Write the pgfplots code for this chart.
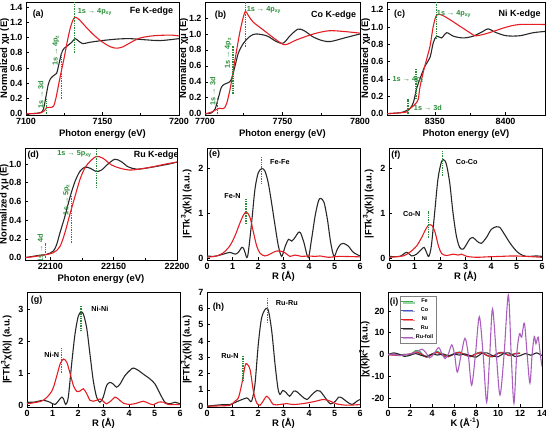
\documentclass[border=0pt]{standalone}
\usepackage{fontspec}
\setmainfont{Liberation Sans}
\usepackage{pgfplots}
\pgfplotsset{compat=1.18}
\usetikzlibrary{shadows}
\definecolor{grn}{RGB}{40,140,55}
\definecolor{myred}{RGB}{228,30,35}
\definecolor{myblk}{RGB}{40,40,40}
\definecolor{fegreen}{RGB}{60,175,80}
\definecolor{coblue}{RGB}{70,90,190}
\definecolor{rupurple}{RGB}{170,95,190}
\newcommand\ann{\bfseries\fontsize{7.3}{8}\selectfont}
\newcommand\pl{\bfseries\fontsize{9}{10}\selectfont}
\tikzset{blk/.style={color=myblk, line width=1.1pt, smooth},
 rd/.style={color=myred, line width=1.1pt, smooth},
 gd/.style={color=grn, line width=1.4pt, densely dotted},
 an/.style={font=\ann},
 pn/.style={font=\pl}}
\pgfplotsset{
 base/.style={scale only axis, anchor=south west, axis line style={line width=0.9pt},
  tick style={line width=0.7pt, black}, major tick length=3bp, minor tick length=1.8bp,
  tick pos=left, tick align=inside, scaled x ticks=false, scaled y ticks=false,
  tick label style={font=\bfseries\fontsize{9}{10}\selectfont},
  label style={font=\bfseries\fontsize{9.5}{10}\selectfont},
  /pgf/number format/assume math mode=true, /pgf/number format/1000 sep={},
  xlabel style={yshift=2bp}},
 xanes/.style={base, xlabel={Photon energy (eV)}, ylabel={Normalized χμ (E)},
  yticklabel style={/pgf/number format/fixed, /pgf/number format/fixed zerofill, /pgf/number format/precision=1},
  minor x tick num=1},
 ft/.style={base, xlabel={R (Å)}, ylabel={|FTk\textsuperscript{3}χ(k)| (a.u.)}, xmin=0, xmax=6, xtick={0,1,2,3,4,5,6},
  xlabel style={yshift=4bp}},
}
\begin{document}
\begin{tikzpicture}
\path[use as bounding box] (0,0) rectangle (546bp,429bp);
% (a)
\begin{axis}[xanes, at={(26bp,314bp)}, width=153bp, height=113bp, xmin=7100, xmax=7200, ymin=-0.015, ymax=1.465,
 xtick={7100,7150,7200}, ytick={0,0.2,0.4,0.6,0.8,1.0,1.2,1.4}, ylabel style={yshift=-6bp}]
\addplot[blk] coordinates {(7100,0) (7106,0.005) (7110,0.02) (7111.5,0.07) (7113,0.22) (7114.5,0.38) (7116,0.46) (7118,0.5) (7120,0.53) (7121.5,0.65) (7123.3,0.8) (7125,0.86) (7127,0.89) (7130,0.94) (7132,0.985) (7134,0.96) (7137,0.92) (7141,0.935) (7146,0.95) (7152,0.965) (7160,0.98) (7168,0.985) (7178,0.97) (7188,0.96) (7200,0.985)};
\addplot[rd] coordinates {(7100,0) (7106,0.005) (7110,0.015) (7112,0.04) (7113.5,0.08) (7116,0.085) (7118,0.1) (7119.5,0.2) (7121,0.35) (7123,0.55) (7125,0.74) (7127,0.95) (7129,1.13) (7131,1.24) (7132.5,1.265) (7135,1.23) (7140,1.12) (7145,1.02) (7150,0.94) (7155,0.88) (7159,0.86) (7163,0.875) (7168,0.93) (7174,0.99) (7182,1.02) (7190,1.03) (7196,1.03) (7200,1.02)};
\addplot[gd] coordinates {(7113.5,0) (7113.5,0.2)};
\addplot[gd] coordinates {(7123.3,0.2) (7123.3,0.82)};
\addplot[gd] coordinates {(7131.8,0.8) (7131.8,1.46)};
\node[an, text=grn, rotate=90] at (axis cs:7109.6,0.25) {1s → 3d};
\node[an, text=grn, rotate=90] at (axis cs:7119.6,0.83) {1s → 4p\textsubscript{z}};
\node[an, text=grn] at (axis cs:7145,1.33) {1s → 4p\textsubscript{xy}};
\node[pn] at (axis cs:7108,1.3) {(a)};
\node[pn] at (axis cs:7182,1.34) {Fe K-edge};
\end{axis}
% (b)
\begin{axis}[xanes, at={(205bp,314bp)}, width=155bp, height=113bp, xmin=7700, xmax=7800, ymin=-0.015, ymax=1.4,
 xtick={7700,7750,7800}, ytick={0,0.2,0.4,0.6,0.8,1.0,1.2}, ylabel style={yshift=-6bp}]
\addplot[blk] coordinates {(7700,0) (7704,0.01) (7706.5,0.06) (7708.5,0.19) (7710.5,0.33) (7712.5,0.37) (7715,0.39) (7717,0.43) (7719.4,0.6) (7721.5,0.76) (7724.7,0.88) (7729,0.97) (7733,1.0) (7740,0.975) (7746,0.905) (7750.5,0.885) (7755,0.98) (7760,1.06) (7764,1.04) (7770,0.96) (7776,0.915) (7781,0.905) (7790,0.95) (7800,1.0)};
\addplot[rd] coordinates {(7700,0) (7704,0.02) (7707,0.05) (7709.5,0.07) (7712,0.065) (7714,0.13) (7716.5,0.34) (7718.7,0.6) (7720.8,0.84) (7723,1.07) (7725.8,1.275) (7728,1.23) (7731,1.15) (7737.6,1.05) (7746,0.925) (7751.6,0.865) (7759,0.925) (7770,1.0) (7780,1.04) (7790,1.03) (7800,1.01)};
\addplot[gd] coordinates {(7708,0) (7708,0.2)};
\addplot[gd] coordinates {(7718,0.25) (7718,0.85)};
\addplot[gd] coordinates {(7726,0.84) (7726,1.4)};
\node[an, text=grn, rotate=90] at (axis cs:7705,0.28) {1s → 3d};
\node[an, text=grn, rotate=90] at (axis cs:7715,0.76) {1s → 4p\textsubscript{z}};
\node[an, text=grn] at (axis cs:7738,1.3) {1s → 4p\textsubscript{xy}};
\node[pn] at (axis cs:7710,1.23) {(b)};
\node[pn] at (axis cs:7783,1.23) {Co K-edge};
\end{axis}
% (c)
\begin{axis}[xanes, at={(387bp,314bp)}, width=158bp, height=113bp, xmin=8316, xmax=8428, ymin=-0.015, ymax=1.29,
 xtick={8350,8400}, ytick={0,0.2,0.4,0.6,0.8,1.0,1.2}, ylabel style={yshift=-6bp}]
\addplot[blk] coordinates {(8316,0) (8325,0.01) (8327.6,0.02) (8332.3,0.06) (8334.7,0.13) (8337,0.29) (8339.3,0.4) (8342.9,0.55) (8346.5,0.65) (8348.8,0.82) (8351.2,0.895) (8354.7,0.875) (8358.3,0.935) (8363,0.895) (8370,0.875) (8377,0.895) (8384,0.95) (8387.7,0.98) (8393.6,0.935) (8400.7,0.9) (8410,0.9) (8419.5,0.935) (8428,0.95)};
\addplot[rd] coordinates {(8316,0) (8325,0.01) (8329.9,0.02) (8332.3,0.06) (8334.7,0.09) (8336.5,0.12) (8338.2,0.17) (8339.3,0.3) (8341.7,0.48) (8344.1,0.63) (8346.5,0.78) (8348.8,1.01) (8351.2,1.14) (8354.7,1.14) (8360.7,1.085) (8367.7,1.01) (8374.8,0.935) (8378.4,0.9) (8384.2,0.915) (8391.3,0.95) (8400.7,1.0) (8410,1.03) (8428,1.03)};
\addplot[gd] coordinates {(8331,0) (8331,0.17)};
\addplot[gd] coordinates {(8336.5,0.17) (8336.5,0.52)};
\addplot[gd] coordinates {(8351,0.86) (8351,1.29)};
\node[an, text=grn] at (axis cs:8345,0.065) {1s → 3d};
\node[an, text=grn] at (axis cs:8331,0.39) {1s → 4p\textsubscript{z}};
\node[an, text=grn] at (axis cs:8363.5,1.155) {1s → 4p\textsubscript{xy}};
\node[pn] at (axis cs:8325,1.15) {(c)};
\node[pn] at (axis cs:8410,1.15) {Ni K-edge};
\end{axis}
% (d)
\begin{axis}[xanes, at={(25bp,169bp)}, width=152bp, height=112bp, xmin=22080, xmax=22200, ymin=-0.025, ymax=1.17,
 xtick={22100,22150,22200}, ytick={0,0.2,0.4,0.6,0.8,1.0}, ylabel style={yshift=-6.5bp}]
\addplot[blk] coordinates {(22080,0) (22089,0.02) (22097,0.035) (22102.3,0.07) (22105,0.14) (22107.6,0.265) (22111.5,0.44) (22115.4,0.64) (22119.4,0.81) (22123.3,0.92) (22127.2,0.965) (22131.2,0.955) (22136.4,0.92) (22140.4,0.935) (22145.6,1.0) (22151,1.05) (22156,1.025) (22161.3,0.97) (22167.8,0.945) (22175.7,0.955) (22186.3,0.98) (22194,1.0) (22200,1.02)};
\addplot[rd] coordinates {(22080,0) (22089,0.015) (22102,0.05) (22107.6,0.12) (22111.5,0.265) (22115.4,0.46) (22119.4,0.65) (22123.3,0.83) (22127.2,0.955) (22131.2,1.025) (22136.4,1.08) (22141.6,1.06) (22148.2,0.99) (22154.8,0.955) (22162.6,0.935) (22170.5,0.945) (22181,0.97) (22191.5,1.0) (22200,1.02)};
\addplot[gd] coordinates {(22096.3,0) (22096.3,0.16)};
\addplot[gd] coordinates {(22116.7,0.16) (22116.7,0.67)};
\addplot[gd] coordinates {(22136.4,0.74) (22136.4,1.17)};
\node[an, text=grn, rotate=90] at (axis cs:22092,0.1) {1s → 4d};
\node[an, text=grn, rotate=90] at (axis cs:22112.8,0.62) {1s → 5p\textsubscript{z}};
\node[an, text=grn] at (axis cs:22119,1.11) {1s → 5p\textsubscript{xy}};
\node[pn] at (axis cs:22086.5,1.095) {(d)};
\node[pn] at (axis cs:22183.6,1.095) {Ru K-edge};
\end{axis}
% (e)
\begin{axis}[ft, at={(207bp,169bp)}, width=153bp, height=112bp, ymin=-0.04, ymax=2.45, ytick={0,1,2}]
\addplot[blk] coordinates {(0,0.05) (0.25,0.04) (0.45,0.06) (0.64,0.09) (0.9,0.13) (1.1,0.09) (1.23,0.13) (1.36,0.24) (1.43,0.22) (1.49,0.13) (1.56,0.015) (1.62,0.13) (1.75,0.79) (1.88,1.53) (2.01,1.9) (2.15,1.99) (2.27,1.94) (2.4,1.68) (2.53,1.24) (2.67,0.72) (2.8,0.27) (2.93,0.04) (3.07,0.27) (3.2,0.42) (3.32,0.38) (3.45,0.46) (3.58,0.57) (3.67,0.56) (3.8,0.35) (3.97,0.015) (4.1,0.42) (4.24,0.94) (4.37,1.27) (4.46,1.33) (4.59,1.24) (4.72,0.87) (4.85,0.35) (4.98,0.04) (5.11,0.2) (5.24,0.31) (5.35,0.33) (5.54,0.27) (5.74,0.13) (6,0.05)};
\addplot[rd] coordinates {(0,0.02) (0.38,0.05) (0.64,0.12) (0.9,0.28) (1.1,0.5) (1.29,0.78) (1.45,0.98) (1.56,1.02) (1.69,0.9) (1.82,0.58) (1.95,0.27) (2.08,0.11) (2.27,0.05) (2.47,0.09) (2.67,0.15) (2.86,0.16) (3.06,0.12) (3.25,0.04) (3.45,0.07) (3.71,0.04) (3.97,0.05) (4.24,0.04) (4.43,0.05) (4.76,0.02) (5.2,0.04) (6,0.03)};
\addplot[gd] coordinates {(1.53,0.76) (1.53,1.33)};
\addplot[gd] coordinates {(2.14,1.64) (2.14,2.24)};
\node[an] at (axis cs:1.0,1.38) {Fe-N};
\node[an] at (axis cs:2.86,2.14) {Fe-Fe};
\node[pn] at (axis cs:0.3,2.31) {(e)};
\end{axis}
% (f)
\begin{axis}[ft, at={(389bp,169bp)}, width=153bp, height=112bp, ymin=-0.04, ymax=2.45, ytick={0,1,2}]
\addplot[blk] coordinates {(0,0.04) (0.42,0.04) (0.69,0.13) (0.89,0.05) (1.08,0.09) (1.28,0.2) (1.38,0.24) (1.47,0.13) (1.56,0.04) (1.66,0.27) (1.79,1.01) (1.92,1.76) (2.05,2.13) (2.14,2.19) (2.25,2.09) (2.38,1.68) (2.51,1.01) (2.64,0.5) (2.77,0.24) (2.9,0.2) (3.0,0.27) (3.16,0.42) (3.29,0.46) (3.45,0.38) (3.62,0.33) (3.82,0.46) (4.01,0.64) (4.21,0.7) (4.34,0.69) (4.53,0.53) (4.73,0.35) (4.93,0.2) (5.12,0.1) (5.38,0.04) (5.78,0.05) (6,0.04)};
\addplot[rd] coordinates {(0,0.02) (0.55,0.05) (0.81,0.13) (1.08,0.27) (1.28,0.46) (1.41,0.61) (1.54,0.73) (1.68,0.73) (1.81,0.57) (1.94,0.27) (2.07,0.1) (2.27,0.06) (2.51,0.09) (2.71,0.07) (2.85,0.09) (3.05,0.04) (3.44,0.02) (3.83,0.03) (4.36,0.04) (4.88,0.05) (5.4,0.04) (6,0.02)};
\addplot[gd] coordinates {(1.56,0.46) (1.56,1.05)};
\addplot[gd] coordinates {(2.09,1.83) (2.09,2.38)};
\node[an] at (axis cs:0.89,0.98) {Co-N};
\node[an] at (axis cs:3.05,2.13) {Co-Co};
\node[pn] at (axis cs:0.27,2.29) {(f)};
\end{axis}
% (g)
\begin{axis}[ft, at={(27bp,22bp)}, width=153bp, height=115bp, ymin=-0.05, ymax=3.55, ytick={0,1,2,3}]
\addplot[blk] coordinates {(0,0.1) (0.26,0.1) (0.64,0.16) (0.9,0.1) (1.1,0.03) (1.3,0.21) (1.37,0.26) (1.43,0.21) (1.52,0.03) (1.62,0.26) (1.75,1.29) (1.88,2.22) (2.01,2.79) (2.12,2.92) (2.21,2.86) (2.34,2.43) (2.47,1.6) (2.6,0.77) (2.73,0.26) (2.86,0.1) (2.99,0.26) (3.12,0.62) (3.25,0.72) (3.38,0.67) (3.51,0.57) (3.65,0.67) (3.84,0.93) (4.04,1.1) (4.17,1.17) (4.36,1.1) (4.56,0.98) (4.82,0.83) (5.02,0.67) (5.22,0.36) (5.41,0.1) (5.61,0.05) (5.8,0.1) (6,0.05)};
\addplot[rd] coordinates {(0,0.05) (0.39,0.1) (0.64,0.16) (0.9,0.36) (1.03,0.55) (1.16,0.9) (1.3,1.3) (1.43,1.45) (1.56,1.35) (1.69,1.0) (1.82,0.62) (1.95,0.44) (2.08,0.45) (2.21,0.52) (2.34,0.37) (2.47,0.16) (2.6,0.13) (2.73,0.16) (2.86,0.2) (2.99,0.13) (3.12,0.05) (3.32,0.16) (3.45,0.26) (3.58,0.2) (3.78,0.07) (4.04,0.03) (4.3,0.07) (4.56,0.13) (4.76,0.07) (4.95,0.02) (5.15,0.1) (5.35,0.1) (5.54,0.03) (6,0.03)};
\addplot[gd] coordinates {(1.36,1.03) (1.36,1.8)};
\addplot[gd] coordinates {(2.12,2.32) (2.12,3.1)};
\node[an] at (axis cs:0.97,1.57) {Ni-N};
\node[an] at (axis cs:2.86,3.02) {Ni-Ni};
\node[pn] at (axis cs:0.38,3.3) {(g)};
\end{axis}
% (h)
\begin{axis}[ft, at={(207bp,22bp)}, width=153bp, height=115bp, ymin=-0.05, ymax=7, ytick={0,1,2,3,4,5,6,7}]
\addplot[blk] coordinates {(0,0) (0.64,0.1) (0.9,0.1) (1.16,0.27) (1.36,0.4) (1.56,0.51) (1.62,0.45) (1.75,0.31) (1.88,1.33) (2.01,3.77) (2.14,5.4) (2.3,5.97) (2.41,5.85) (2.54,4.59) (2.67,2.55) (2.78,1.12) (2.86,0.72) (2.97,0.96) (3.1,0.84) (3.24,0.61) (3.4,0.92) (3.53,0.88) (3.72,0.61) (3.92,0.41) (4.12,0.72) (4.31,0.96) (4.44,0.92) (4.64,0.51) (4.84,0.14) (5.04,0.31) (5.16,0.55) (5.29,0.51) (5.49,0.27) (5.69,0.1) (5.88,0.31) (6,0.41)};
\addplot[rd] coordinates {(0,0) (0.52,0.02) (0.9,0.06) (1.1,0.31) (1.23,0.51) (1.36,1.33) (1.49,2.45) (1.56,2.6) (1.69,2.24) (1.82,0.92) (1.95,0.2) (2.08,0.06) (2.2,0.31) (2.34,0.61) (2.47,0.4) (2.6,0.1) (2.86,0.1) (3.12,0.16) (3.38,0.1) (3.77,0.16) (4.17,0.27) (4.57,0.41) (4.83,0.31) (5.09,0.14) (5.48,0.06) (6,0.1)};
\addplot[gd] coordinates {(1.41,1.53) (1.41,3.12)};
\addplot[gd] coordinates {(2.38,5.1) (2.38,6.63)};
\node[an] at (axis cs:0.9,3.06) {Ru-N};
\node[an] at (axis cs:3.13,6.32) {Ru-Ru};
\node[pn] at (axis cs:0.45,6.1) {(h)};
\end{axis}
% (i)
\begin{axis}[base, at={(388bp,22bp)}, width=154bp, height=115bp, xmin=0, xmax=14, ymin=-24, ymax=28.7,
 xtick={0,2,4,6,8,10,12,14}, ytick={-20,-10,0,10,20}, xlabel={K (Å\textsuperscript{-1})}, ylabel={|χ(k)k\textsuperscript{2}| (a.u.)},
 ylabel style={yshift=-5bp}, xlabel style={yshift=1.2bp, inner sep=0.5bp},
 legend style={at={(0.075,0.965)}, anchor=north west, font=\bfseries\fontsize{5.5}{6}\selectfont, draw=gray, fill=white,
  drop shadow={shadow xshift=1.2bp, shadow yshift=-1.2bp, fill=gray!60}, inner sep=1bp, row sep=-0.5bp},
 legend image code/.code={\draw[#1] (0bp,0bp) -- (12bp,0bp);}]
\addplot[color=fegreen, line width=1.1pt, smooth] coordinates {(0,0) (0.5,0.2) (1,-0.3) (1.5,0.2) (2,-0.3) (2.5,1.8) (2.9,1.5) (3.2,-0.5) (3.6,-1.2) (4,0.2) (4.5,1.5) (5,-0.2) (5.5,-1) (6,0.5) (6.5,1.2) (7,0) (7.5,-1) (8,0.5) (8.5,1.2) (9,-0.5) (9.5,-1.0) (10,0.8) (10.5,1.0) (11,-0.5) (11.5,0.5) (12,0.8)};
\addlegendentry{Fe}
\addplot[color=coblue, line width=1.1pt, smooth] coordinates {(0,0) (1,-0.2) (2,0.2) (2.5,1.0) (3,0.5) (3.5,-1.0) (4,0) (4.5,1.0) (5,-0.5) (5.5,-0.8) (6,0.3) (6.5,0.8) (7,-0.2) (7.5,-0.7) (8,0.4) (8.5,0.8) (9,-0.3) (9.5,-0.8) (10,0.5) (10.5,0.7) (11,-0.3) (11.5,0.3) (12,0.5)};
\addlegendentry{Co}
\addplot[color=myred, line width=1.1pt, smooth] coordinates {(0,0) (1,-0.3) (2,0.3) (2.5,1.2) (3,0.3) (3.5,-1.1) (4,0.2) (4.5,1.1) (5,-0.4) (5.5,-0.9) (6,0.4) (6.5,1.0) (7,-0.1) (7.5,-0.8) (8,0.3) (8.5,1.0) (9,-0.4) (9.5,-0.9) (10,0.6) (10.5,0.8) (11,-0.4) (11.5,0.4) (12,0.6)};
\addlegendentry{Ni}
\addplot[color=myblk, line width=1.1pt, smooth] coordinates {(0,0) (0.5,0.8) (1,0.2) (1.5,-0.8) (2,-0.3) (2.5,0.5) (3,-0.3) (3.5,-0.8) (4,0.3) (4.5,-0.2) (5,0.3) (5.5,-0.5) (6,0.2) (6.5,-0.2) (7,0.3) (7.5,-0.5) (8,-1.2) (8.5,0.5) (9,0.8) (9.5,-0.5) (10,-1.0) (10.5,0.5) (11,0.8) (11.5,-0.8) (12,-0.5) (12.5,0.5) (13,-0.3) (13.5,0.8) (14,-0.5)};
\addlegendentry{Ru}
\addplot[color=rupurple, line width=1.1pt, smooth] coordinates {(0,0) (0.5,0.3) (1,-0.5) (1.5,0) (2,0.3) (2.5,1.0) (3.1,2.5) (3.5,0.5) (3.8,-1.5) (4.2,0.5) (4.6,3.2) (4.9,0.5) (5.2,-1.8) (5.5,0.5) (5.8,4.5) (6.05,0) (6.3,-8) (6.65,0) (7.0,7.5) (7.3,0) (7.6,-14) (7.95,0) (8.3,17.4) (8.65,0) (8.97,-21.8) (9.25,0) (9.5,21) (9.85,0) (10.18,-18.5) (10.55,0) (10.94,27.4) (11.2,0) (11.45,-22.3) (11.7,0) (11.95,9.5) (12.15,8) (12.4,14.4) (12.65,0) (12.9,-13.1) (13.1,0) (13.3,8.3) (13.45,5) (13.65,8) (13.85,0) (14,-5.5)};
\addlegendentry{Ru-foil}
\node[pn] at (axis cs:0.55,24) {(i)};
\end{axis}
\end{tikzpicture}
\end{document}
